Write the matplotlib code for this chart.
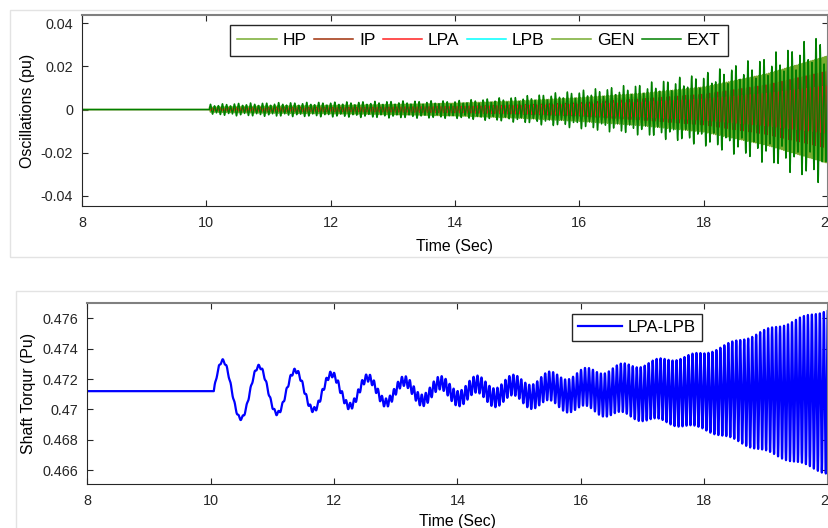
import numpy as np
import matplotlib.pyplot as plt
from matplotlib.patches import Rectangle

plt.rcParams['font.family'] = ['Liberation Sans', 'DejaVu Sans']

# ---- values ----
t_start = 10.05            # disturbance instant (s)
f_tors = 15.5              # torsional mode seen as separate strokes (Hz)
f_beat = 11.0              # second component on EXT (Hz)
f_low = 1.70               # low mode on shaft torque (Hz)

# envelope knots (s) and half peak-to-peak amplitudes (pu), top plot
env_t = [10.05, 10.5, 11.0, 12.0, 13.0, 14.0, 15.0, 16.0, 17.0, 18.0, 19.0, 20.0]
hp_amp = [0.0010, 0.0012, 0.0013, 0.0015, 0.0018, 0.0022, 0.0030, 0.0042, 0.0060, 0.0085, 0.0130, 0.0200]
ip_amp = [0.0006, 0.0008, 0.0009, 0.0010, 0.0012, 0.0015, 0.0022, 0.0032, 0.0050, 0.0072, 0.0115, 0.0180]
lpa_amp = [0.0004, 0.0005, 0.0006, 0.0008, 0.0010, 0.0013, 0.0018, 0.0025, 0.0035, 0.0050, 0.0075, 0.0110]
lpb_amp = [0.0002, 0.0002, 0.0003, 0.0003, 0.0004, 0.0005, 0.0007, 0.0009, 0.0012, 0.0016, 0.0022, 0.0030]
gen_amp = [0.0012, 0.0015, 0.0017, 0.0020, 0.0024, 0.0030, 0.0040, 0.0055, 0.0075, 0.0105, 0.0165, 0.0250]
ext_amp = [0.0025, 0.0030, 0.0032, 0.0035, 0.0040, 0.0042, 0.0060, 0.0090, 0.0120, 0.0170, 0.0250, 0.0360]

# apparent stroke frequency of each trace on screen (Hz)
freqs = [31.0, 23.25, 15.5, 31.0, 31.0, 15.5]

# shaft torque LPA-LPB
tq_base = 0.4712
tq_t = [10.05, 10.5, 11.0, 11.5, 12.0, 12.5, 13.0, 13.5, 14.0, 15.0, 16.0, 17.0, 18.0, 19.0, 20.0]
tq_low = [0.0021, 0.0018, 0.0015, 0.0013, 0.0011, 0.0009, 0.0007, 0.0006, 0.0005, 0.0004, 0.0003, 0.0002, 0.0001, 0.0001, 0.0001]
tq_hf = [0.0001, 0.0001, 0.00012, 0.00015, 0.0002, 0.00025, 0.0003, 0.0004, 0.0005, 0.0007, 0.0012, 0.0018, 0.0025, 0.0040, 0.0054]

names = ["HP", "IP", "LPA", "LPB", "GEN", "EXT"]
colors = ["#77AC30", "#A0300A", "#FF2020", "#00FFFF", "#77AC30", "#008000"]
phases = [0.5, 0.8, 2.4, 1.3, 1.6, 0.0]
widths = [1.0, 0.7, 0.8, 0.8, 1.0, 1.0]
zorders = [2.0, 2.2, 2.3, 2.05, 2.1, 2.5]

xticks = [8, 10, 12, 14, 16, 18, 20]
top_yticks = [-0.04, -0.02, 0, 0.02, 0.04]
top_ylabels = ["-0.04", "-0.02", "0", "0.02", "0.04"]
bot_yticks = [0.466, 0.468, 0.47, 0.472, 0.474, 0.476]
bot_ylabels = ["0.466", "0.468", "0.47", "0.472", "0.474", "0.476"]

t = np.arange(8.0, 20.0001, 0.001)
tau = np.clip(t - t_start, 0, None)
on = t >= t_start


def env(knots_t, knots_a):
    return np.where(on, np.interp(t, knots_t, knots_a), 0.0)


def style_axes(ax):
    ax.tick_params(direction="in", length=4, top=True, right=True,
                   labelsize=10.4, colors="#262626")
    ax.tick_params(axis="x", pad=7.5)
    ax.tick_params(axis="y", pad=6.5)
    for s in ["left", "bottom"]:
        ax.spines[s].set_color("#262626")
    for s in ["top", "right"]:
        ax.spines[s].set_color("#808080")
        ax.spines[s].set_linewidth(1.5)
    ax.set_xlim(8, 20)
    ax.set_xticks(xticks)
    ax.set_xticklabels([str(v) for v in xticks])


fig = plt.figure(figsize=(8.29, 5.28), dpi=100)
fig.patches.append(Rectangle((10 / 829, 1 - 257 / 528), 1, 247 / 528, transform=fig.transFigure,
                             fill=False, edgecolor="#e3e3e3", linewidth=1))
fig.patches.append(Rectangle((16 / 829, -0.1), 1, 1 - 291 / 528 + 0.1, transform=fig.transFigure,
                             fill=False, edgecolor="#e3e3e3", linewidth=1))

# ---- top: mass oscillations ----
ax1 = fig.add_axes([82 / 829, 1 - 206 / 528, 746 / 829, 191 / 528])
amps = [hp_amp, ip_amp, lpa_amp, lpb_amp, gen_amp, ext_amp]
for name, c, f, ph, lw, z, a in zip(names, colors, freqs, phases, widths, zorders, amps):
    y = env(env_t, a) * np.sin(2 * np.pi * f * tau + ph)
    if name == "EXT":
        y = env(env_t, a) * (0.8 * np.sin(2 * np.pi * f * tau)
                             + 0.2 * np.sin(2 * np.pi * f_beat * tau))
    ax1.plot(t, y, color=c, linewidth=lw, zorder=z, label=name)
style_axes(ax1)
ax1.set_ylim(-0.0448, 0.0439)
ax1.set_yticks(top_yticks)
ax1.set_yticklabels(top_ylabels)
ax1.set_xlabel("Time (Sec)", fontsize=11.4, labelpad=6)
ax1.set_ylabel("Oscillations (pu)", fontsize=11.4, labelpad=4)
leg = ax1.legend(loc="upper center", bbox_to_anchor=(479 / 829, 1 - 25 / 528),
                 bbox_transform=fig.transFigure, ncol=6, fontsize=12.5,
                 handlelength=2.25, handletextpad=0.35, columnspacing=0.42,
                 fancybox=False, framealpha=1, borderpad=0.45, borderaxespad=0)
for h in leg.get_lines():
    h.set_linewidth(1.1)
leg.get_frame().set_edgecolor("#262626")
leg.get_frame().set_linewidth(1.0)

# ---- bottom: shaft torque ----
ax2 = fig.add_axes([87.3 / 829, 1 - 484 / 528, 740.4 / 829, 181.3 / 528])
torque = (tq_base
          + env(tq_t, tq_low) * np.sin(2 * np.pi * f_low * tau)
          + env(tq_t, tq_hf) * np.sin(2 * np.pi * f_tors * tau))
ax2.plot(t, torque, color="#0000FF", linewidth=1.6, label="LPA-LPB")
style_axes(ax2)
ax2.set_ylim(0.46508, 0.47703)
ax2.set_yticks(bot_yticks)
ax2.set_yticklabels(bot_ylabels)
ax2.set_xlabel("Time (Sec)", fontsize=11.4, labelpad=4)
ax2.set_ylabel("Shaft Torqur (Pu)", fontsize=11.4, labelpad=5)
leg2 = ax2.legend(loc="upper center", bbox_to_anchor=(637 / 829, 1 - 314 / 528),
                  bbox_transform=fig.transFigure, fontsize=12.2,
                  handlelength=2.6, handletextpad=0.3,
                  fancybox=False, framealpha=1, borderpad=0.35, borderaxespad=0)
leg2.get_frame().set_edgecolor("#262626")
leg2.get_frame().set_linewidth(1.0)

fig.savefig("out.png", dpi=100)
